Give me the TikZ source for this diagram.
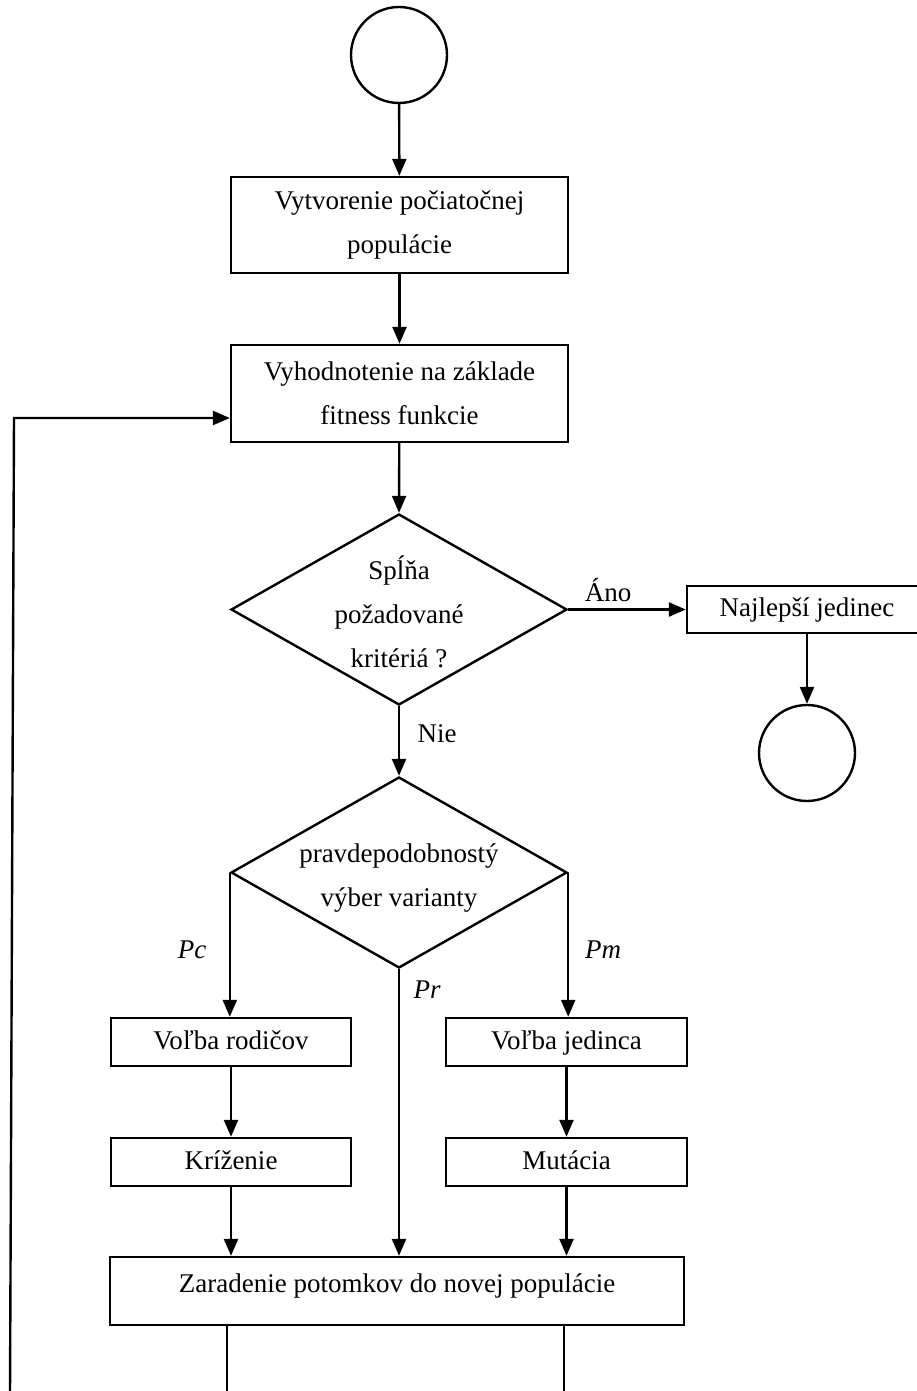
\documentclass[tikz,border=0pt]{standalone}
\usepackage{fontspec}
\setmainfont{Liberation Serif}
\usetikzlibrary{arrows.meta,shapes.geometric,calc}

\tikzset{
  x=1pt, y=-1pt,
  every node/.style={font=\fontsize{27}{44}\selectfont},
  flowline/.style={line width=2.4pt},
  flowarrow/.style={flowline, -{Triangle[length=17pt,width=14pt]}},
  terminal/.style={draw, circle, line width=2.4pt, minimum size=96pt, inner sep=0pt},
  procbox/.style={draw, rectangle, line width=2.4pt, inner sep=0pt, align=center},
  onelinebox/.style={procbox, text height=18pt, text depth=4pt},
  decision/.style={draw, diamond, line width=2.4pt, inner sep=0pt,
                   minimum width=336pt, minimum height=191pt},
  caption/.style={align=center, inner sep=0pt},
  branchlabel/.style={inner sep=0pt, font=\fontsize{27}{30}\selectfont\itshape},
  plainlabel/.style={inner sep=0pt}
}

\begin{document}
\begin{tikzpicture}
  \useasboundingbox (0,0) rectangle (916,1391);

  % terminals
  \node[terminal] (start) at (399,55) {};
  \node[terminal] (stop) at (807,753) {};

  % processing steps
  \node[procbox, minimum width=337pt, minimum height=96pt] (init) at (399.5,225)
    {Vytvorenie počiatočnej\\populácie};
  \node[procbox, minimum width=337pt, minimum height=97pt] (eval) at (399.5,393.5)
    {Vyhodnotenie na základe\\fitness funkcie};

  % termination test
  \node[decision] (check) at (399,609.5) {};
  \node[caption] (checktxt) at (399,612) {Spĺňa\\požadované\\kritériá ?};

  \node[onelinebox, minimum width=240pt, minimum height=47pt] (best) at (807,609.5)
    {Najlepší jedinec};

  % choice of genetic operator
  \node[decision] (choose) at (399,872.5) {};
  \node[caption] (choosetxt) at (399,878) {pravdepodobnostý\\výber varianty};

  \node[onelinebox, minimum width=240pt, minimum height=48pt] (parents) at (231,1042)
    {Voľba rodičov};
  \node[onelinebox, minimum width=241pt, minimum height=48pt] (single) at (566.5,1042)
    {Voľba jedinca};
  \node[onelinebox, minimum width=240pt, minimum height=48pt] (cross) at (231,1162)
    {Kríženie};
  \node[onelinebox, minimum width=241pt, minimum height=48pt] (mutate) at (566.5,1162)
    {Mutácia};
  \node[procbox, minimum width=574pt, minimum height=68pt] (merge) at (397,1291) {};
  \node[caption] (mergetxt) at (397,1286) {Zaradenie potomkov do novej populácie};

  % free ends of the loop and outgoing lines
  \coordinate (loopbottom) at (10,1395);
  \coordinate (looptop) at (14,418);
  \coordinate (outleft) at (227,1395);
  \coordinate (outright) at (564,1395);

  % main flow
  \draw[flowarrow] (start) -- (init);
  \draw[flowarrow] (init) -- (eval);
  \draw[flowarrow] (eval) -- (check.north);
  \draw[flowarrow] (check.east) -- (best.west);
  \draw[flowarrow] (best.south) -- (best.south |- stop.north);
  \draw[flowarrow] (check.south) -- (choose.north);

  % operator branches
  \draw[flowarrow] (choose.west) -- (choose.west |- parents.north);
  \draw[flowarrow] (choose.east) -- (choose.east |- single.north);
  \draw[flowarrow] (choose.south) -- (choose.south |- merge.north);
  \draw[flowarrow] (parents) -- (cross);
  \draw[flowarrow] (single) -- (mutate);
  \draw[flowarrow] (cross.south) -- (cross.south |- merge.north);
  \draw[flowarrow] (mutate.south) -- (mutate.south |- merge.north);

  % lines leaving the last step and the loop back to evaluation
  \draw[flowline] (outleft |- merge.south) -- (outleft);
  \draw[flowline] (outright |- merge.south) -- (outright);
  \draw[flowarrow] (loopbottom) -- (looptop) -- (eval.west |- looptop);

  % branch labels
  \node[plainlabel] (yes) at (608,590) {Áno};
  \node[plainlabel] (no) at (437,734) {Nie};
  \node[branchlabel] (pc) at (192,950) {Pc};
  \node[branchlabel] (pm) at (603,950) {Pm};
  \node[branchlabel] (pr) at (427,990) {Pr};
\end{tikzpicture}
\end{document}
